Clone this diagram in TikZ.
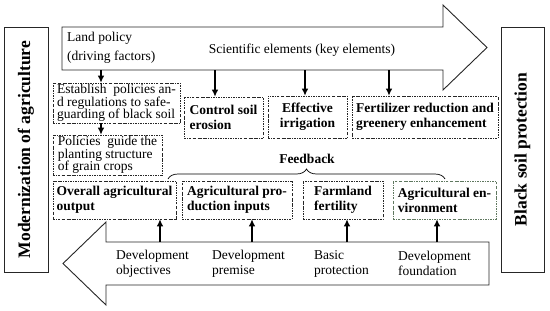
\documentclass[tikz,border=0pt]{standalone}
\usepackage{fontspec}
\setmainfont{Liberation Serif}
\usetikzlibrary{arrows.meta,decorations.pathreplacing}
\begin{document}
\begin{tikzpicture}[x=1pt,y=-1pt,
  font=\fontsize{13.5}{13}\selectfont,
  dbox/.style={draw=black!85, line width=0.6pt, dash pattern=on 2.2pt off 1.2pt on 0.5pt off 1.2pt, inner sep=1pt, align=left},
  nbox/.style={dbox, font=\fontsize{13.5}{12.5}\selectfont},
  bbox/.style={dbox, font=\fontsize{13.5}{15}\selectfont\bfseries},
  arr/.style={-{Latex[length=7pt,width=6.5pt]}, line width=1.1pt},
  big/.style={draw=black!85, line width=0.9pt},
  vbox/.style={big, rotate=90, font=\fontsize{17.5}{18}\selectfont\bfseries, minimum width=245pt, minimum height=44pt, inner sep=0pt},
  lbl/.style={align=left, font=\fontsize{13.5}{15}\selectfont, inner sep=0pt}
]
\useasboundingbox (0,0) rectangle (550,311);
\fill[white] (0,0) rectangle (550,311);

% side boxes
\node[vbox] (mod) at (26,149.5) {Modernization of agriculture};
\node[vbox, minimum height=43pt] (bsp) at (522.5,149.5) {Black soil protection};

% top arrow
\draw[big] (62,27) -- (443,27) -- (443,5) -- (487,47.5) -- (443,90) -- (443,70) -- (62,70) -- cycle;
\node[lbl, anchor=west, font=\fontsize{13.5}{19}\selectfont] (land) at (67,47.5) {Land policy\\(driving factors)};
\node[lbl] (sci) at (302,50) {Scientific elements (key elements)};
\coordinate (t1) at (101,70);
\coordinate (t2) at (215,70);
\coordinate (t3) at (305,70);
\coordinate (t4) at (389,70);

% bottom arrow
\draw[big] (489,242) -- (106,242) -- (106,222) -- (63,263.5) -- (106,305) -- (106,285) -- (489,285) -- cycle;
\coordinate (u1) at (160,242);
\coordinate (u2) at (252,242);
\coordinate (u3) at (347,242);
\coordinate (u4) at (437,242);
\node[lbl, anchor=west] (dobj) at (116,263.5) {Development\\objectives};
\node[lbl, anchor=west] (dpre) at (212,263.5) {Development\\premise};
\node[lbl, anchor=west] (bpro) at (314,263.5) {Basic\\protection};
\node[lbl, anchor=west] (dfou) at (398,263.5) {Development\\foundation};

% policy boxes
\node[nbox, minimum width=127pt, minimum height=40pt] (b1) at (116.5,103) {Establish\ \ policies an-\\d regulations to safe-\\guarding of black soil};
\node[nbox, minimum width=109pt, minimum height=40pt] (b2) at (107.5,155) {Policies\ \ guide the\\planting structure\\of grain crops};

% scientific boxes
\node[bbox, minimum width=79pt, minimum height=41pt] (ctrl) at (223.5,117.5) {Control soil\\erosion};
\node[bbox, align=center, minimum width=79pt, minimum height=42pt] (irr) at (307.5,117) {Effective\\irrigation};
\node[bbox, minimum width=146pt, minimum height=42pt] (fert) at (425,117) {Fertilizer reduction and\\greenery enhancement};

% bottom boxes
\node[bbox, minimum width=123pt, minimum height=38pt] (out) at (114.5,200) {Overall agricultural\\output};
\node[bbox, minimum width=110pt, minimum height=38pt] (inp) at (237,200) {Agricultural pro-\\duction inputs};
\node[bbox, minimum width=80pt, minimum height=38pt] (fer) at (343,200) {Farmland\\fertility};
\node[bbox, draw={rgb,255:red,95;green,120;blue,95}, minimum width=103pt, minimum height=38pt] (env) at (444.5,200) {Agricultural en-\\vironment};

% feedback
\node[font=\fontsize{13.5}{15}\selectfont\bfseries, inner sep=0pt] (fb) at (307,159) {Feedback};
\coordinate (fl) at (168,179);
\coordinate (fr) at (445,179);
\draw[decorate, decoration={brace, amplitude=10pt}, line width=0.7pt] (fl) -- (fr);

% connectors
\draw[arr] (t1) -- (t1 |- b1.north);
\draw[arr] (b1.south -| t1) -- (b2.north -| t1);
\draw[arr] (t2) -- (t2 |- ctrl.north);
\draw[arr] (t3) -- (t3 |- irr.north);
\draw[arr] (t4) -- (t4 |- fert.north);
\draw[arr] (u1) -- (u1 |- out.south);
\draw[arr] (u2) -- (u2 |- inp.south);
\draw[arr] (u3) -- (u3 |- fer.south);
\draw[arr] (u4) -- (u4 |- env.south);
\end{tikzpicture}
\end{document}
